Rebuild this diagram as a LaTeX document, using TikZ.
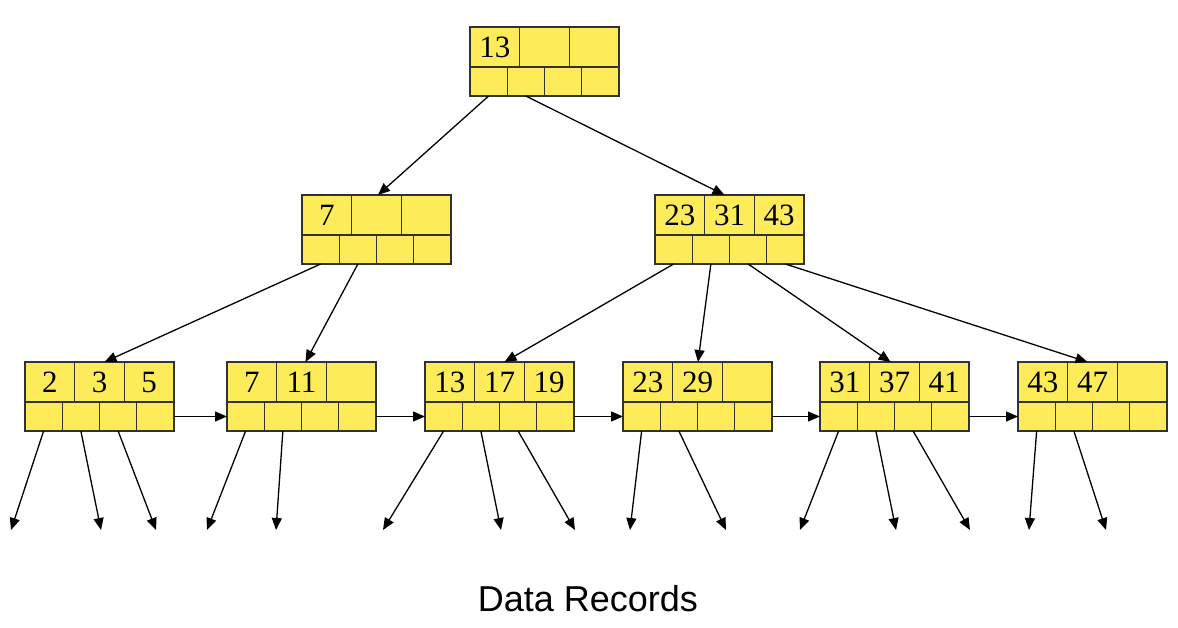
\documentclass[tikz,border=0pt]{standalone}
\usepackage{fontspec}
\setmainfont{Liberation Serif}
\newfontfamily\labelfont{Liberation Sans}
\usetikzlibrary{arrows.meta,calc}
\definecolor{cellfill}{RGB}{253,235,90}
\definecolor{celledge}{RGB}{50,50,50}
\tikzset{
  kcell/.style={draw=celledge, fill=cellfill, line width=1.3pt, minimum width=49.67pt, minimum height=40pt, inner sep=0pt, outer sep=0pt, anchor=north west, font=\fontsize{31}{31}\selectfont},
  pcell/.style={draw=celledge, fill=cellfill, line width=1.3pt, minimum width=37.25pt, minimum height=29pt, inner sep=0pt, outer sep=0pt, anchor=north west},
  ptr/.style={draw=black, line width=1.3pt, -{Triangle[length=12pt,width=10pt]}},
}
\newcommand\bptnode[6]{%
  \node[kcell] (#1k1) at (#2,#3) {#4};
  \node[kcell] (#1k2) at (#1k1.north east) {#5};
  \node[kcell] (#1k3) at (#1k2.north east) {#6};
  \node[pcell] (#1p1) at (#1k1.south west) {};
  \node[pcell] (#1p2) at (#1p1.north east) {};
  \node[pcell] (#1p3) at (#1p2.north east) {};
  \node[pcell] (#1p4) at (#1p3.north east) {};
}
\begin{document}
\begin{tikzpicture}[x=1pt,y=-1pt]
\useasboundingbox (0,0) rectangle (1178,627);
% nodes
\bptnode{r}{470}{27}{13}{}{}
\bptnode{a}{302}{195}{7}{}{}
\bptnode{b}{655}{195}{23}{31}{43}
\bptnode{la}{25}{362}{2}{3}{5}
\bptnode{lb}{227}{362}{7}{11}{}
\bptnode{lc}{425}{362}{13}{17}{19}
\bptnode{ld}{623}{362}{23}{29}{}
\bptnode{le}{820}{362}{31}{37}{41}
\bptnode{lf}{1018}{362}{43}{47}{}
% tree pointers
\draw[ptr] (rp1.south) -- ($(ak2.north)+(1.5,0)$);
\draw[ptr] (rp2.south) -- ($(bk2.north)+(-5,0)$);
\draw[ptr] (ap1.south) -- ($(lak2.north)+(5,0)$);
\draw[ptr] (ap2.south) -- ($(lbk2.north)+(4,0)$);
\draw[ptr] (bp1.south) -- ($(lck2.north)+(5,0)$);
\draw[ptr] (bp2.south) -- ($(ldk2.north)+(0.5,0)$);
\draw[ptr] (bp3.south) -- ($(lek2.north)+(-4,0)$);
\draw[ptr] (bp4.south) -- ($(lfk2.north)+(-5,0)$);
% sibling pointers
\draw[ptr] (lap4.east) -- (lbp1.west);
\draw[ptr] (lbp4.east) -- (lcp1.west);
\draw[ptr] (lcp4.east) -- (ldp1.west);
\draw[ptr] (ldp4.east) -- (lep1.west);
\draw[ptr] (lep4.east) -- (lfp1.west);
% data record pointers
\coordinate (da1) at (11,530);
\coordinate (da2) at (101,530);
\coordinate (da3) at (156,530);
\coordinate (db1) at (207,530);
\coordinate (db2) at (276,530);
\coordinate (dc1) at (383,530);
\coordinate (dc2) at (501,530);
\coordinate (dc3) at (575,530);
\coordinate (dd1) at (630,530);
\coordinate (dd2) at (726,530);
\coordinate (de1) at (800,530);
\coordinate (de2) at (896,530);
\coordinate (de3) at (970,530);
\coordinate (df1) at (1029,530);
\coordinate (df2) at (1106,530);
\draw[ptr] (lap1.south) -- (da1);
\draw[ptr] (lap2.south) -- (da2);
\draw[ptr] (lap3.south) -- (da3);
\draw[ptr] (lbp1.south) -- (db1);
\draw[ptr] (lbp2.south) -- (db2);
\draw[ptr] (lcp1.south) -- (dc1);
\draw[ptr] (lcp2.south) -- (dc2);
\draw[ptr] (lcp3.south) -- (dc3);
\draw[ptr] (ldp1.south) -- (dd1);
\draw[ptr] (ldp2.south) -- (dd2);
\draw[ptr] (lep1.south) -- (de1);
\draw[ptr] (lep2.south) -- (de2);
\draw[ptr] (lep3.south) -- (de3);
\draw[ptr] (lfp1.south) -- (df1);
\draw[ptr] (lfp2.south) -- (df2);
% caption
\node[font=\labelfont\fontsize{36}{36}\selectfont, inner sep=0pt] (caption) at (588,599) {Data Records};
\end{tikzpicture}
\end{document}
